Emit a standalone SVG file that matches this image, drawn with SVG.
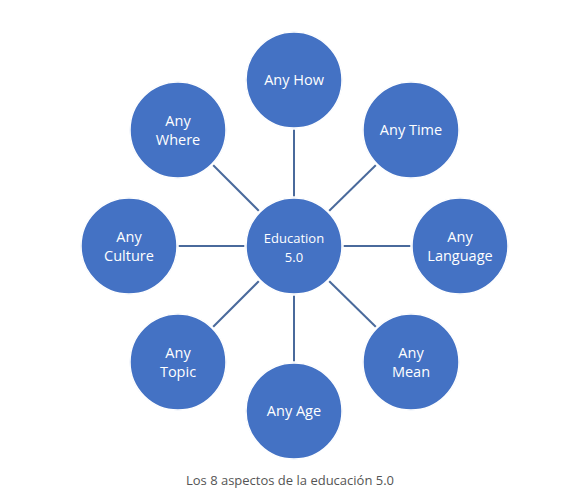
<svg xmlns="http://www.w3.org/2000/svg" width="568" height="492" viewBox="0 0 568 492">
<style>
.n circle{fill:#4472C4;stroke:#fff;stroke-width:1.5}
.o{fill:none;stroke:#d9d9d9;stroke-width:1}
.t{font-family:"Open Sans","Noto Sans",sans-serif;font-size:14.5px;fill:#fff;text-anchor:middle}
.c{font-size:13px}
#connectors line{stroke:#4A6A9C;stroke-width:2}
.cap{font-family:"Open Sans","Noto Sans",sans-serif;font-size:13px;fill:#555;text-anchor:middle}
</style>
<rect width="568" height="492" fill="#fff"/>
<g id="connectors">
<line x1="294" y1="198" x2="294" y2="128"/>
<line x1="328" y1="212" x2="377" y2="164"/>
<line x1="342" y1="246" x2="412" y2="246"/>
<line x1="328" y1="280" x2="377" y2="328"/>
<line x1="294" y1="294" x2="294" y2="364"/>
<line x1="260" y1="280" x2="212" y2="328"/>
<line x1="246" y1="246" x2="177" y2="246"/>
<line x1="260" y1="212" x2="212" y2="164"/>
</g>
<g id="center" class="n"><circle class="o" cx="294" cy="246" r="49"/><circle cx="294" cy="246" r="48"/><text class="t c" x="294" y="243">Education</text><text class="t c" x="294" y="262">5.0</text></g>
<g id="anyhow" class="n"><circle class="o" cx="294" cy="80" r="49"/><circle cx="294" cy="80" r="48"/><text class="t" x="294" y="85">Any How</text></g>
<g id="anytime" class="n"><circle class="o" cx="411" cy="130" r="49"/><circle cx="411" cy="130" r="48"/><text class="t" x="411" y="135">Any Time</text></g>
<g id="anylanguage" class="n"><circle class="o" cx="460" cy="246" r="49"/><circle cx="460" cy="246" r="48"/><text class="t" x="460" y="242">Any</text><text class="t" x="460" y="261">Language</text></g>
<g id="anymean" class="n"><circle class="o" cx="411" cy="362" r="49"/><circle cx="411" cy="362" r="48"/><text class="t" x="411" y="358">Any</text><text class="t" x="411" y="377">Mean</text></g>
<g id="anyage" class="n"><circle class="o" cx="294" cy="411" r="49"/><circle cx="294" cy="411" r="48"/><text class="t" x="294" y="416">Any Age</text></g>
<g id="anytopic" class="n"><circle class="o" cx="178" cy="362" r="49"/><circle cx="178" cy="362" r="48"/><text class="t" x="178" y="358">Any</text><text class="t" x="178" y="377">Topic</text></g>
<g id="anyculture" class="n"><circle class="o" cx="129" cy="246" r="49"/><circle cx="129" cy="246" r="48"/><text class="t" x="129" y="242">Any</text><text class="t" x="129" y="261">Culture</text></g>
<g id="anywhere" class="n"><circle class="o" cx="178" cy="130" r="49"/><circle cx="178" cy="130" r="48"/><text class="t" x="178" y="126">Any</text><text class="t" x="178" y="145">Where</text></g>
<text class="cap" x="290" y="485">Los 8 aspectos de la educación 5.0</text>
</svg>
